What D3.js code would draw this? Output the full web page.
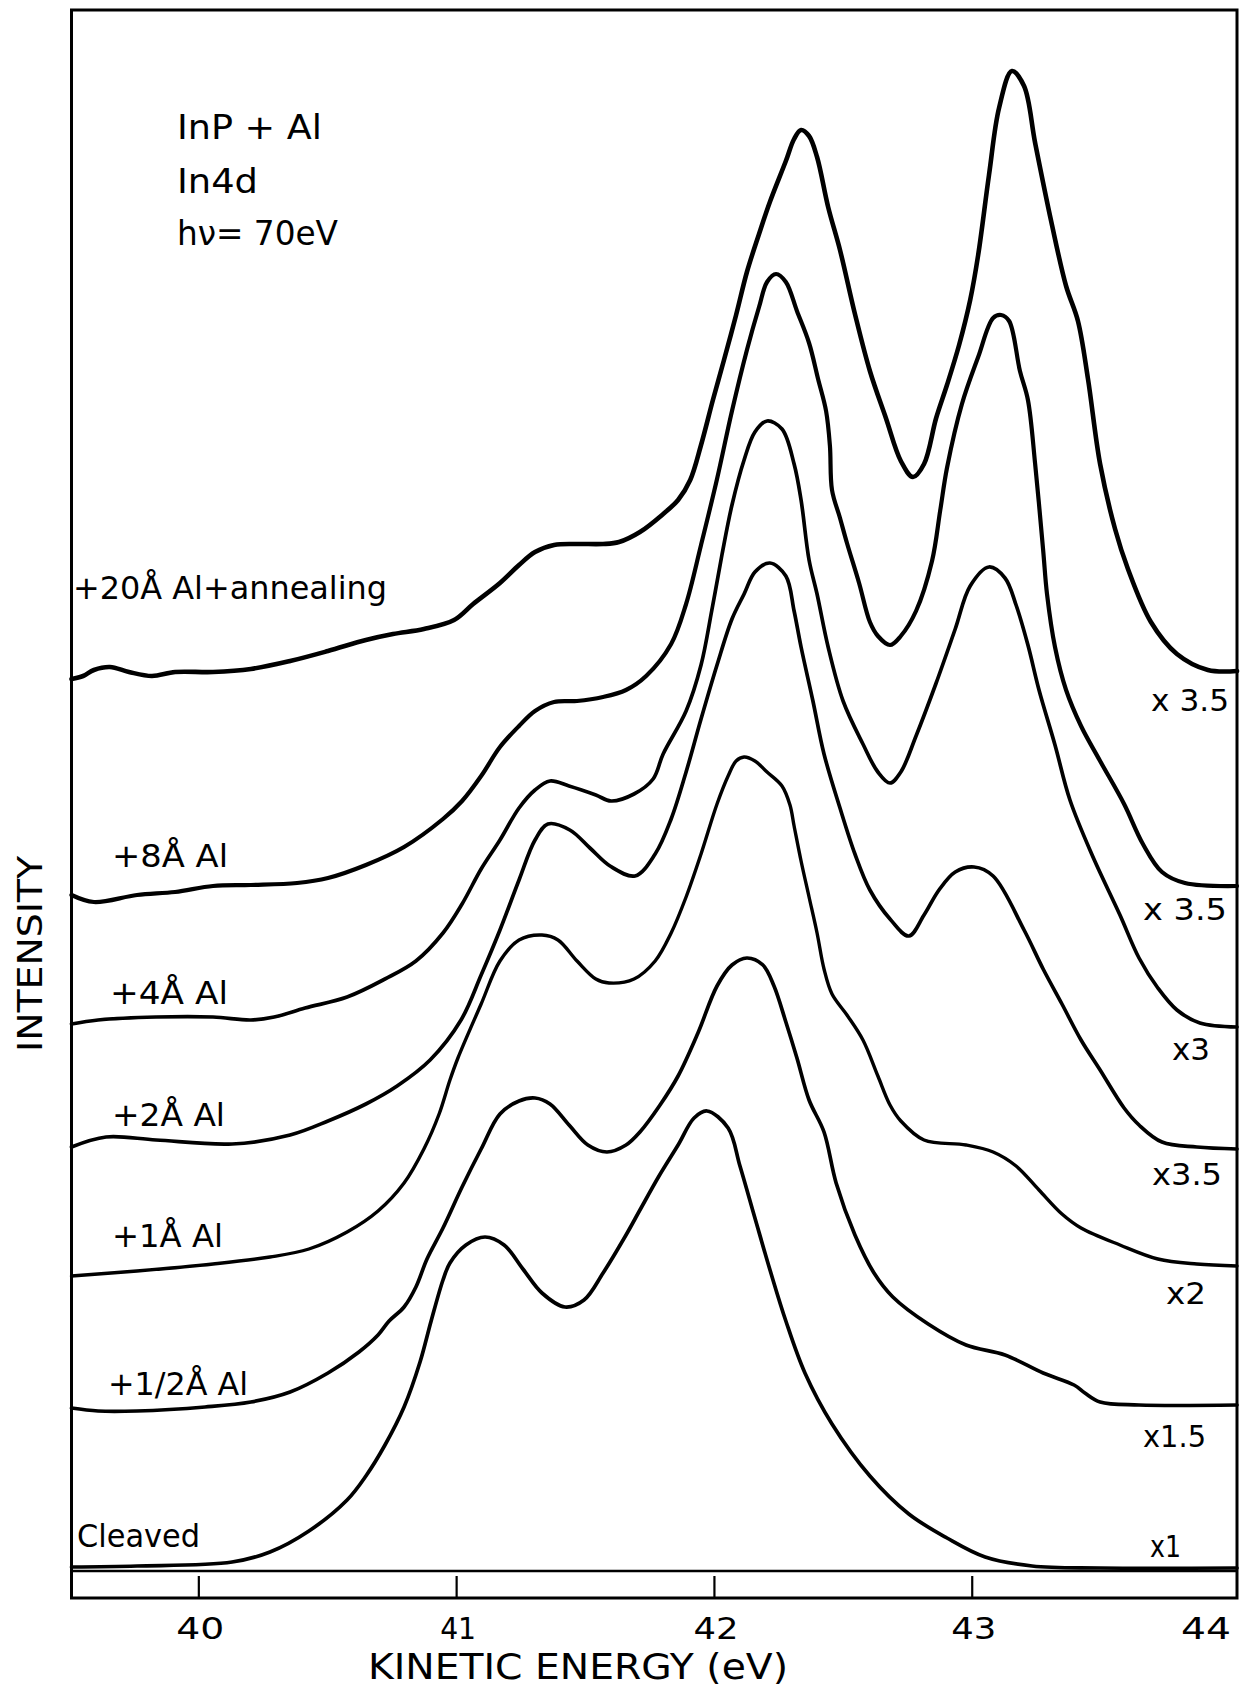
<!DOCTYPE html>
<html><head><meta charset="utf-8">
<script src="https://cdn.jsdelivr.net/npm/d3@7"></script>
<style>html,body{margin:0;padding:0;background:#fff}</style>
</head><body><svg id="c" width="1242" height="1686"></svg>
<script>
// ---- DATA (kinetic energy in eV, intensity in stacked display units) ----
const energyTicks = [40, 41, 42, 43, 44];
const tickLabels = ["40", "41", "42", "43", "44"];
const spectraNames = ["+20Å Al+annealing", "+8Å Al", "+4Å Al", "+2Å Al", "+1Å Al", "+1/2Å Al", "Cleaved"];
const scaleLabels = ["x 3.5", "x 3.5", "x3", "x3.5", "x2", "x1.5", "x1"];
const infoLines = ["InP + Al", "In4d", "hν= 70eV"];

const annealed20 = [[39.508,89.2],[39.553,89.5],[39.595,90.1],[39.657,90.4],[39.731,89.9],[39.820,89.5],[39.910,89.9],[40.057,89.9],[40.204,90.2],[40.356,91.0],[40.503,92.0],[40.650,93.1],[40.755,93.7],[40.875,94.2],[40.992,95.1],[41.066,96.7],[41.170,98.8],[41.244,100.6],[41.306,101.9],[41.380,102.6],[41.469,102.7],[41.570,102.7],[41.632,102.9],[41.713,103.9],[41.803,105.7],[41.861,107.1],[41.908,109.1],[41.950,112.6],[41.996,117.1],[42.039,121.1],[42.086,125.6],[42.128,129.9],[42.175,133.7],[42.217,136.9],[42.279,141.0],[42.311,143.2],[42.338,144.1],[42.369,143.5],[42.400,141.4],[42.443,136.4],[42.489,132.1],[42.547,125.7],[42.605,120.0],[42.667,115.3],[42.725,111.0],[42.772,109.4],[42.815,110.7],[42.862,115.3],[42.904,118.6],[42.951,122.6],[42.994,127.1],[43.025,131.6],[43.067,139.6],[43.106,146.3],[43.156,150.0],[43.203,148.5],[43.246,142.8],[43.308,135.0],[43.366,128.5],[43.412,125.0],[43.451,119.2],[43.498,110.7],[43.556,104.2],[43.606,100.2],[43.695,94.9],[43.796,91.7],[43.916,90.1],[44.029,90.0]];

const al8 = [[39.508,67.6],[39.595,66.9],[39.762,67.6],[39.910,67.9],[40.057,68.5],[40.204,68.6],[40.383,68.8],[40.503,69.3],[40.650,70.6],[40.798,72.4],[40.949,75.2],[41.023,77.0],[41.097,79.5],[41.170,82.4],[41.244,84.5],[41.306,86.0],[41.380,86.9],[41.469,87.0],[41.570,87.4],[41.659,88.1],[41.737,89.5],[41.834,92.7],[41.892,96.7],[41.950,102.6],[42.012,109.2],[42.070,116.0],[42.128,122.1],[42.175,126.4],[42.206,128.9],[42.241,129.7],[42.279,128.9],[42.322,126.0],[42.369,122.8],[42.404,119.2],[42.435,116.0],[42.450,112.5],[42.458,108.1],[42.489,105.3],[42.516,102.8],[42.563,98.8],[42.605,94.9],[42.636,93.5],[42.683,92.6],[42.725,93.5],[42.784,96.0],[42.846,101.0],[42.878,106.1],[42.904,110.3],[42.962,116.7],[43.025,121.4],[43.083,125.3],[43.114,125.6],[43.145,125.0],[43.187,120.0],[43.218,117.1],[43.246,110.7],[43.277,102.1],[43.292,97.7],[43.323,92.4],[43.366,88.1],[43.424,84.5],[43.498,81.0],[43.591,76.7],[43.664,72.7],[43.738,69.9],[43.827,68.8],[44.029,68.5]];

const al4 = [[39.508,54.7],[39.611,55.1],[39.836,55.4],[40.057,55.4],[40.204,55.1],[40.294,55.4],[40.414,56.3],[40.577,57.4],[40.724,59.2],[40.844,61.0],[40.949,63.8],[41.023,66.7],[41.097,70.2],[41.170,73.1],[41.244,76.3],[41.306,78.1],[41.364,79.0],[41.438,78.5],[41.542,77.6],[41.601,77.0],[41.690,77.7],[41.764,79.2],[41.803,81.7],[41.892,86.0],[41.950,90.6],[41.992,96.1],[42.031,101.6],[42.070,106.6],[42.117,111.1],[42.159,113.9],[42.206,115.0],[42.264,114.2],[42.311,110.7],[42.338,107.1],[42.369,101.1],[42.400,97.7],[42.443,92.4],[42.501,87.0],[42.578,82.7],[42.636,79.9],[42.683,78.8],[42.725,79.9],[42.784,83.5],[42.862,88.8],[42.936,94.2],[42.994,98.5],[43.067,100.4],[43.129,99.3],[43.172,96.6],[43.218,92.6],[43.261,88.1],[43.323,82.6],[43.381,77.1],[43.467,71.6],[43.575,65.6],[43.649,61.3],[43.722,58.3],[43.796,56.1],[43.885,54.8],[44.029,54.4]];

const al2 = [[39.508,42.4],[39.642,43.4],[39.836,43.1],[40.131,42.7],[40.356,43.6],[40.503,45.0],[40.650,46.7],[40.771,48.5],[40.899,51.1],[41.019,55.1],[41.097,59.6],[41.170,64.1],[41.244,69.1],[41.306,73.1],[41.356,74.7],[41.441,74.1],[41.519,72.3],[41.597,70.5],[41.694,69.5],[41.772,71.7],[41.834,75.2],[41.892,79.9],[41.950,85.2],[42.012,90.6],[42.070,95.2],[42.117,97.7],[42.159,99.9],[42.217,100.8],[42.279,99.5],[42.311,96.0],[42.338,92.4],[42.384,87.0],[42.427,81.7],[42.489,76.3],[42.547,71.7],[42.605,68.1],[42.683,65.2],[42.756,63.5],[42.815,65.6],[42.873,68.1],[42.936,69.9],[43.009,70.4],[43.083,69.5],[43.203,64.1],[43.277,60.2],[43.350,56.7],[43.424,53.1],[43.498,50.1],[43.591,46.3],[43.649,44.6],[43.738,42.9],[43.873,42.4],[44.029,42.2]];

const al1 = [[39.508,29.5],[39.762,30.0],[40.057,30.7],[40.278,31.4],[40.429,32.2],[40.577,33.9],[40.697,36.0],[40.798,38.8],[40.875,42.2],[40.934,45.7],[40.976,49.1],[41.007,51.3],[41.097,56.7],[41.170,61.0],[41.244,63.1],[41.333,63.6],[41.395,63.1],[41.469,61.0],[41.542,59.2],[41.593,58.8],[41.690,59.2],[41.772,61.0],[41.834,63.8],[41.892,67.4],[41.950,71.7],[42.012,76.7],[42.055,79.5],[42.086,81.0],[42.117,81.4],[42.159,81.0],[42.206,79.9],[42.264,78.5],[42.295,76.6],[42.311,74.5],[42.338,71.0],[42.369,67.4],[42.400,63.8],[42.427,60.2],[42.458,57.7],[42.516,55.6],[42.578,53.1],[42.636,49.5],[42.683,46.6],[42.725,45.0],[42.815,43.1],[42.978,42.6],[43.083,41.9],[43.172,40.5],[43.261,38.1],[43.350,35.7],[43.424,34.3],[43.575,32.6],[43.722,31.2],[43.873,30.7],[44.029,30.5]];

const alHalf = [[39.508,16.3],[39.611,16.0],[39.762,16.0],[40.026,16.4],[40.204,16.9],[40.356,17.9],[40.503,19.8],[40.623,21.9],[40.697,23.6],[40.740,25.0],[40.798,26.4],[40.844,28.4],[40.887,31.2],[40.949,34.3],[41.023,38.4],[41.097,42.2],[41.170,45.7],[41.244,47.0],[41.306,47.3],[41.364,46.7],[41.438,44.6],[41.511,42.6],[41.585,41.9],[41.659,42.6],[41.713,43.9],[41.791,46.6],[41.861,49.5],[41.938,53.8],[42.012,58.5],[42.070,60.6],[42.128,61.3],[42.190,60.6],[42.233,58.5],[42.279,54.9],[42.322,51.3],[42.369,47.1],[42.427,43.9],[42.474,38.8],[42.547,33.6],[42.621,29.8],[42.694,27.4],[42.831,24.7],[42.978,22.6],[43.129,21.6],[43.277,19.8],[43.397,18.6],[43.439,17.8],[43.498,16.9],[43.649,16.6],[44.029,16.6]];

const cleaved = [[39.508,0.4],[39.762,0.5],[40.131,0.9],[40.278,1.9],[40.429,4.0],[40.577,7.1],[40.650,9.5],[40.724,12.6],[40.798,16.4],[40.860,20.9],[40.903,25.0],[40.949,29.1],[40.976,30.8],[41.038,32.6],[41.112,33.4],[41.186,32.6],[41.259,30.2],[41.333,27.8],[41.422,26.4],[41.496,27.1],[41.570,29.8],[41.659,33.6],[41.713,36.1],[41.787,39.5],[41.861,42.6],[41.923,45.3],[41.973,46.0],[42.055,44.3],[42.101,40.5],[42.159,35.3],[42.221,29.8],[42.279,25.0],[42.353,19.8],[42.458,14.7],[42.605,9.5],[42.756,5.7],[42.904,3.3],[43.052,1.4],[43.234,0.5],[43.498,0.3],[44.029,0.3]];

const spectra = [annealed20, al8, al4, al2, al1, alHalf, cleaved];

// ---- STYLE / LAYOUT ----
const W = 1242, H = 1686;
const FONT = "DejaVu Sans";
const strokeWidths = [4.6, 4.2, 3.7, 3.7, 3.4, 3.7, 3.7];

const svg = d3.select("#c");
svg.append("rect").attr("width", W).attr("height", H).attr("fill", "#fff");

const x = d3.scaleLinear().domain([39.508, 44.029]).range([71.5, 1237]);
const y = d3.scaleLinear().domain([0, 156.1]).range([1571, 10]);
const frameTop = 10, frameBottom = 1598;

// frame
const g = svg.append("g");
g.append("rect").attr("x", x.range()[0]).attr("y", frameTop)
  .attr("width", x.range()[1] - x.range()[0]).attr("height", frameBottom - frameTop)
  .attr("fill", "none").attr("stroke", "#000").attr("stroke-width", 3);
g.append("line").attr("x1", x.range()[0]).attr("x2", x.range()[1])
  .attr("y1", y(0)).attr("y2", y(0)).attr("stroke", "#000").attr("stroke-width", 2.6);

// ticks
const axis = d3.axisBottom(x).tickValues(energyTicks.slice(0, 4)).tickSize(-22).tickFormat("");
const ax = svg.append("g").attr("transform", `translate(0,${frameBottom})`).call(axis);
ax.select(".domain").remove();
ax.selectAll(".tick line").attr("stroke", "#000").attr("stroke-width", 2.2);

function txt(str, tx, ty, size, len, anchor) {
  const t = svg.append("text").attr("x", tx).attr("y", ty)
    .attr("font-family", FONT).attr("font-size", size)
    .attr("fill", "#000").attr("text-anchor", anchor || "start").text(str);
  if (len) t.attr("textLength", len).attr("lengthAdjust", "spacingAndGlyphs");
  return t;
}

// tick labels
const tickLens = [48, 36, 45, 45, 50];
energyTicks.forEach((v, i) => {
  const cx = Math.min(x(v) + 2, x.range()[1] - 31);
  txt(tickLabels[i], cx, 1639, 30, tickLens[i], "middle");
});

// axis titles
txt("KINETIC  ENERGY  (eV)", 578, 1679, 36, 420, "middle");
svg.append("text").attr("transform", "translate(42,954) rotate(-90)")
  .attr("font-family", FONT).attr("font-size", 33).attr("text-anchor", "middle")
  .attr("textLength", 196).attr("lengthAdjust", "spacingAndGlyphs").text("INTENSITY");

// info text
const infoBase = [139, 193, 245], infoLen = [145, 81, 161];
infoLines.forEach((s, i) => txt(s, 177, infoBase[i], 34, infoLen[i]));

// curves
const line = d3.line().x(d => x(d[0])).y(d => y(d[1])).curve(d3.curveCatmullRom.alpha(0.5));
spectra.forEach((s, i) => {
  svg.append("path").attr("d", line(s)).attr("fill", "none").attr("stroke", "#000")
    .attr("stroke-width", strokeWidths[i]).attr("stroke-linejoin", "round").attr("stroke-linecap", "round");
});

// series labels (left) and scale factors (right)
const nameX = [73, 112, 110, 112, 112, 108, 77];
const nameBase = [599, 867, 1004, 1126, 1247, 1395, 1547];
const nameLen = [314, 116, 118, 113, 111, 140, 123];
spectraNames.forEach((s, i) => txt(s, nameX[i], nameBase[i], 32, nameLen[i]));

const sfX = [1229, 1227, 1210, 1222, 1206, 1206, 1181];
const sfBase = [711, 920, 1060, 1185, 1304, 1447, 1557];
const sfLen = [78, 84, 38, 70, 40, 63, 31];
scaleLabels.forEach((s, i) => txt(s, sfX[i], sfBase[i], 30, sfLen[i], "end"));
</script>
</body></html>
